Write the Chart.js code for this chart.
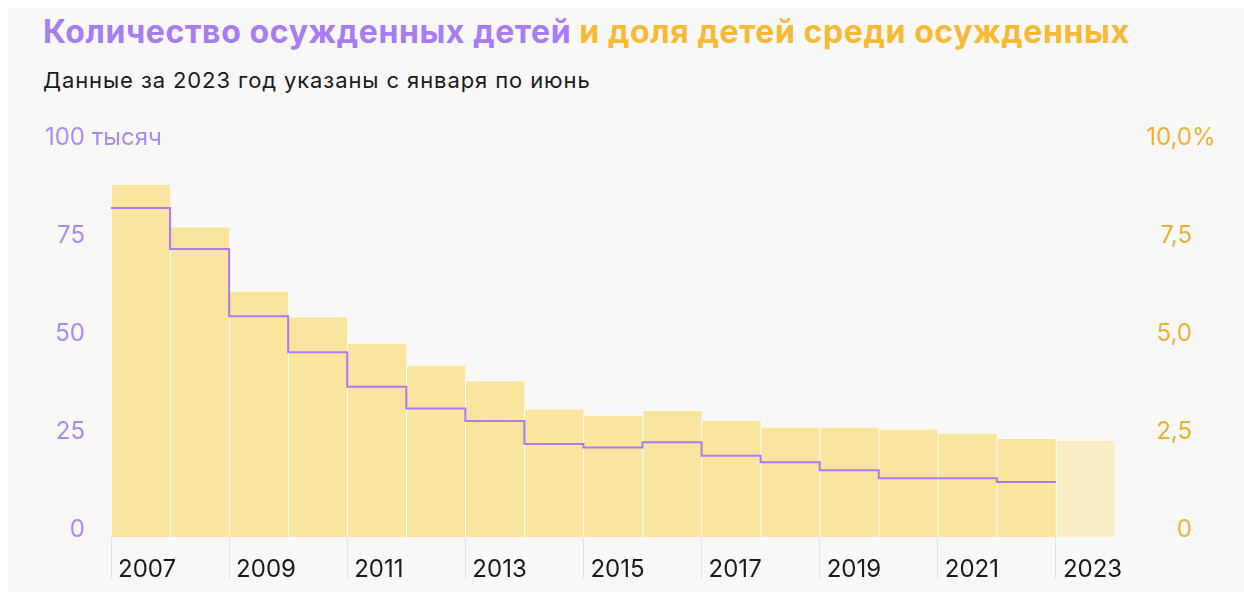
<!DOCTYPE html>
<html lang="ru">
<head>
<meta charset="utf-8">
<script src="https://cdn.jsdelivr.net/npm/chart.js@4"></script>
<style>
  html, body { margin: 0; padding: 0; background: #fff; }
  #wrap { position: absolute; left: 8px; top: 8px; width: 1236px; height: 584px; background: #f8f8f8; }
  #title { position: absolute; left: 43px; top: 12px; font: bold 32px Inter, Roboto, sans-serif; white-space: nowrap; letter-spacing: 0.6px; }
  #title .a { color: #a77cf5; }
  #title .b { color: #f8b933; }
  #sub { position: absolute; left: 43px; top: 67px; font: 22px Inter, Roboto, sans-serif; color: #1a1a1a; white-space: nowrap; letter-spacing: 0.9px; }
  #box { position: absolute; left: 0; top: 0; width: 1244px; height: 592px; }
</style>
</head>
<body>
<div id="wrap"></div>
<div id="title"><span class="a">Количество осужденных детей</span> <span class="b">и доля детей среди осужденных</span></div>
<div id="sub">Данные за 2023 год указаны с января по июнь</div>
<div id="box"><canvas id="chart" width="1244" height="592"></canvas></div>
<script>
const years = [2007, 2008, 2009, 2010, 2011, 2012, 2013, 2014, 2015, 2016, 2017, 2018, 2019, 2020, 2021, 2022, 2023];
// доля детей среди осужденных, %
const shareValues = [9.0, 7.92, 6.28, 5.62, 4.95, 4.39, 3.99, 3.27, 3.11, 3.23, 2.98, 2.81, 2.81, 2.76, 2.65, 2.52, 2.47];
// количество осужденных детей, тысяч (2007–2022)
const countValues = [83.9, 73.5, 56.3, 47.1, 38.3, 32.8, 29.6, 23.7, 22.8, 24.2, 20.7, 19.1, 17.0, 15.0, 15.0, 14.0];
const leftTicks = [0, 25, 50, 75, 100];
const rightTicks = [0, 2.5, 5, 7.5, 10];
const xTickYears = [2007, 2009, 2011, 2013, 2015, 2017, 2019, 2021, 2023];
const partialYear = 2023;

const purple = '#a57ef5';
const purpleText = '#a98bf7';
const orangeText = '#f0ae32';
const tickFont = { family: 'Inter, Roboto, sans-serif', size: 24 };
const yLabelShift = -7;

// ступенчатая линия: от левого края столбца до правого
const stepPoints = countValues.map((v, i) => ({ x: years[i] - 0.5, y: v }));
stepPoints.push({ x: years[countValues.length - 1] + 0.5, y: countValues[countValues.length - 1] });

const unitLabels = {
  id: 'unitLabels',
  afterDraw(chart) {
    const ctx = chart.ctx;
    const yl = chart.scales.y, yr = chart.scales.yR;
    ctx.save();
    ctx.font = tickFont.size + 'px ' + tickFont.family;
    ctx.textBaseline = 'middle';
    ctx.textAlign = 'left';
    ctx.fillStyle = purpleText;
    ctx.fillText(' тысяч', 85, yl.getPixelForValue(100) + yLabelShift);
    ctx.fillStyle = orangeText;
    ctx.fillText('%', 1192, yr.getPixelForValue(10) + yLabelShift);
    ctx.restore();
  }
};

new Chart(document.getElementById('chart'), {
  data: {
    datasets: [
      {
        type: 'line',
        data: stepPoints,
        yAxisID: 'y',
        stepped: true,
        borderColor: purple,
        borderWidth: 2,
        pointRadius: 0,
        fill: false,
        order: 0
      },
      {
        type: 'bar',
        data: years.map((y, i) => ({ x: y, y: shareValues[i] })),
        yAxisID: 'yR',
        backgroundColor: years.map(y => y === partialYear ? '#fbedc4' : '#fae59e'),
        borderColor: 'rgba(255,255,255,0.9)',
        borderWidth: { top: 1, left: 1, right: 0, bottom: 0 },
        borderSkipped: false,
        barPercentage: 1,
        categoryPercentage: 1,
        order: 1
      }
    ]
  },
  options: {
    responsive: false,
    animation: false,
    events: [],
    layout: { padding: { top: 145, left: 8, right: 52, bottom: 0 } },
    plugins: { legend: { display: false }, tooltip: { enabled: false } },
    scales: {
      x: {
        type: 'linear',
        offset: false,
        min: years[0] - 0.5,
        max: years[years.length - 1] + 0.5,
        afterBuildTicks: s => { s.ticks = xTickYears.map(y => ({ value: y - 0.5 })); },
        afterFit: s => { s.height = 55; },
        grid: { offset: false, drawOnChartArea: false, drawTicks: true, tickLength: 42, color: '#e2e2e2', lineWidth: 1 },
        border: { display: false },
        ticks: {
          callback: v => String(v + 0.5),
          align: 'start',
          labelOffset: 7,
          padding: -24,
          maxRotation: 0,
          autoSkip: false,
          color: '#1a1a1a',
          font: tickFont
        }
      },
      y: {
        position: 'left',
        min: 0,
        max: 100,
        afterBuildTicks: s => { s.ticks = leftTicks.map(v => ({ value: v })); },
        afterFit: s => { s.width = 103; },
        grid: { display: false, drawTicks: false },
        border: { display: false },
        ticks: {
          padding: 26,
          labelOffset: yLabelShift,
          color: purpleText,
          font: tickFont,
          callback: v => String(v)
        }
      },
      yR: {
        position: 'right',
        min: 0,
        max: 10,
        afterBuildTicks: s => { s.ticks = rightTicks.map(v => ({ value: v })); },
        afterFit: s => { s.width = 77; },
        grid: { display: false, drawTicks: false },
        border: { display: false },
        ticks: {
          crossAlign: 'far',
          labelOffset: yLabelShift,
          color: orangeText,
          font: tickFont,
          callback: v => v === 0 ? '0' : v.toFixed(1).replace('.', ',')
        }
      }
    }
  },
  plugins: [unitLabels]
});
</script>
</body>
</html>
